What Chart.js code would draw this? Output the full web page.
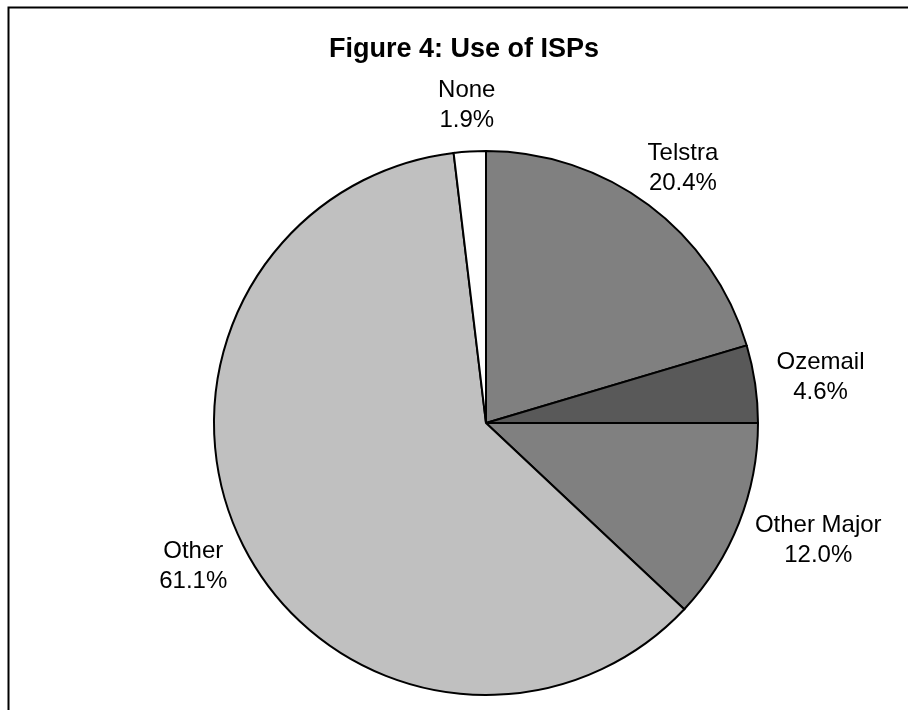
<!DOCTYPE html>
<html>
<head>
<meta charset="utf-8">
<script src="https://cdn.jsdelivr.net/npm/chart.js@4"></script>
<style>
  html, body { margin: 0; padding: 0; background: #ffffff; }
  #wrap { width: 908px; height: 710px; position: relative; }
</style>
</head>
<body>
<div id="wrap"><canvas id="c" width="908" height="710"></canvas></div>
<script>
// ---- data ----
const titleText = "Figure 4: Use of ISPs";
const categories = ["Telstra", "Ozemail", "Other Major", "Other", "None"];
const shares = [20.4, 4.6, 12.0, 61.1, 1.9];

// ---- styles ----
const sliceColors = ["#808080", "#595959", "#808080", "#c0c0c0", "#ffffff"];
const FONT = "'Liberation Sans', Arial, Helvetica, sans-serif";

const framePlugin = {
  id: 'frame',
  beforeDraw(chart) {
    const ctx = chart.ctx;
    ctx.save();
    ctx.fillStyle = '#ffffff';
    ctx.fillRect(0, 0, chart.width, chart.height);
    ctx.strokeStyle = '#000000';
    ctx.lineWidth = 2;
    ctx.strokeRect(8.5, 7.5, chart.width + 100, chart.height + 100);
    // title
    ctx.fillStyle = '#000000';
    ctx.font = "bold 27px " + FONT;
    ctx.textAlign = 'center';
    ctx.textBaseline = 'alphabetic';
    ctx.fillText(titleText, 464, 57);
    ctx.restore();
  }
};

const labelPlugin = {
  id: 'outsideLabels',
  afterDatasetsDraw(chart) {
    const ctx = chart.ctx;
    const meta = chart.getDatasetMeta(0);
    const ds = chart.data.datasets[0];
    ctx.save();
    ctx.font = "24px " + FONT;
    ctx.fillStyle = '#000000';
    ctx.textAlign = 'center';
    ctx.textBaseline = 'middle';
    const lineH = 30;
    meta.data.forEach((arc, i) => {
      const p = arc.getProps(['x', 'y', 'startAngle', 'endAngle', 'outerRadius'], true);
      const mid = (p.startAngle + p.endAngle) / 2;
      const c = Math.cos(mid), s = Math.sin(mid);
      const l1 = chart.data.labels[i];
      const l2 = ds.data[i].toFixed(1) + '%';
      const w = Math.max(ctx.measureText(l1).width, ctx.measureText(l2).width);
      const h = 48;
      const d = 22;
      const px = p.x + (p.outerRadius + d) * c + (w / 2) * c;
      const py = p.y + (p.outerRadius + d) * s + (h / 2) * s;
      ctx.fillText(l1, px, py - lineH / 2);
      ctx.fillText(l2, px, py + lineH / 2);
    });
    ctx.restore();
  }
};

new Chart(document.getElementById('c'), {
  type: 'pie',
  data: {
    labels: categories,
    datasets: [{
      data: shares,
      backgroundColor: sliceColors,
      borderColor: '#000000',
      borderWidth: 2,
      hoverBorderWidth: 2,
      hoverOffset: 0,
      borderJoinStyle: 'miter'
    }]
  },
  options: {
    responsive: false,
    animation: false,
    layout: { padding: { top: 150, bottom: 14, left: 64, right: 0 } },
    plugins: {
      legend: { display: false },
      tooltip: { enabled: false },
      title: { display: false }
    },
    events: []
  },
  plugins: [framePlugin, labelPlugin]
});
</script>
</body>
</html>
